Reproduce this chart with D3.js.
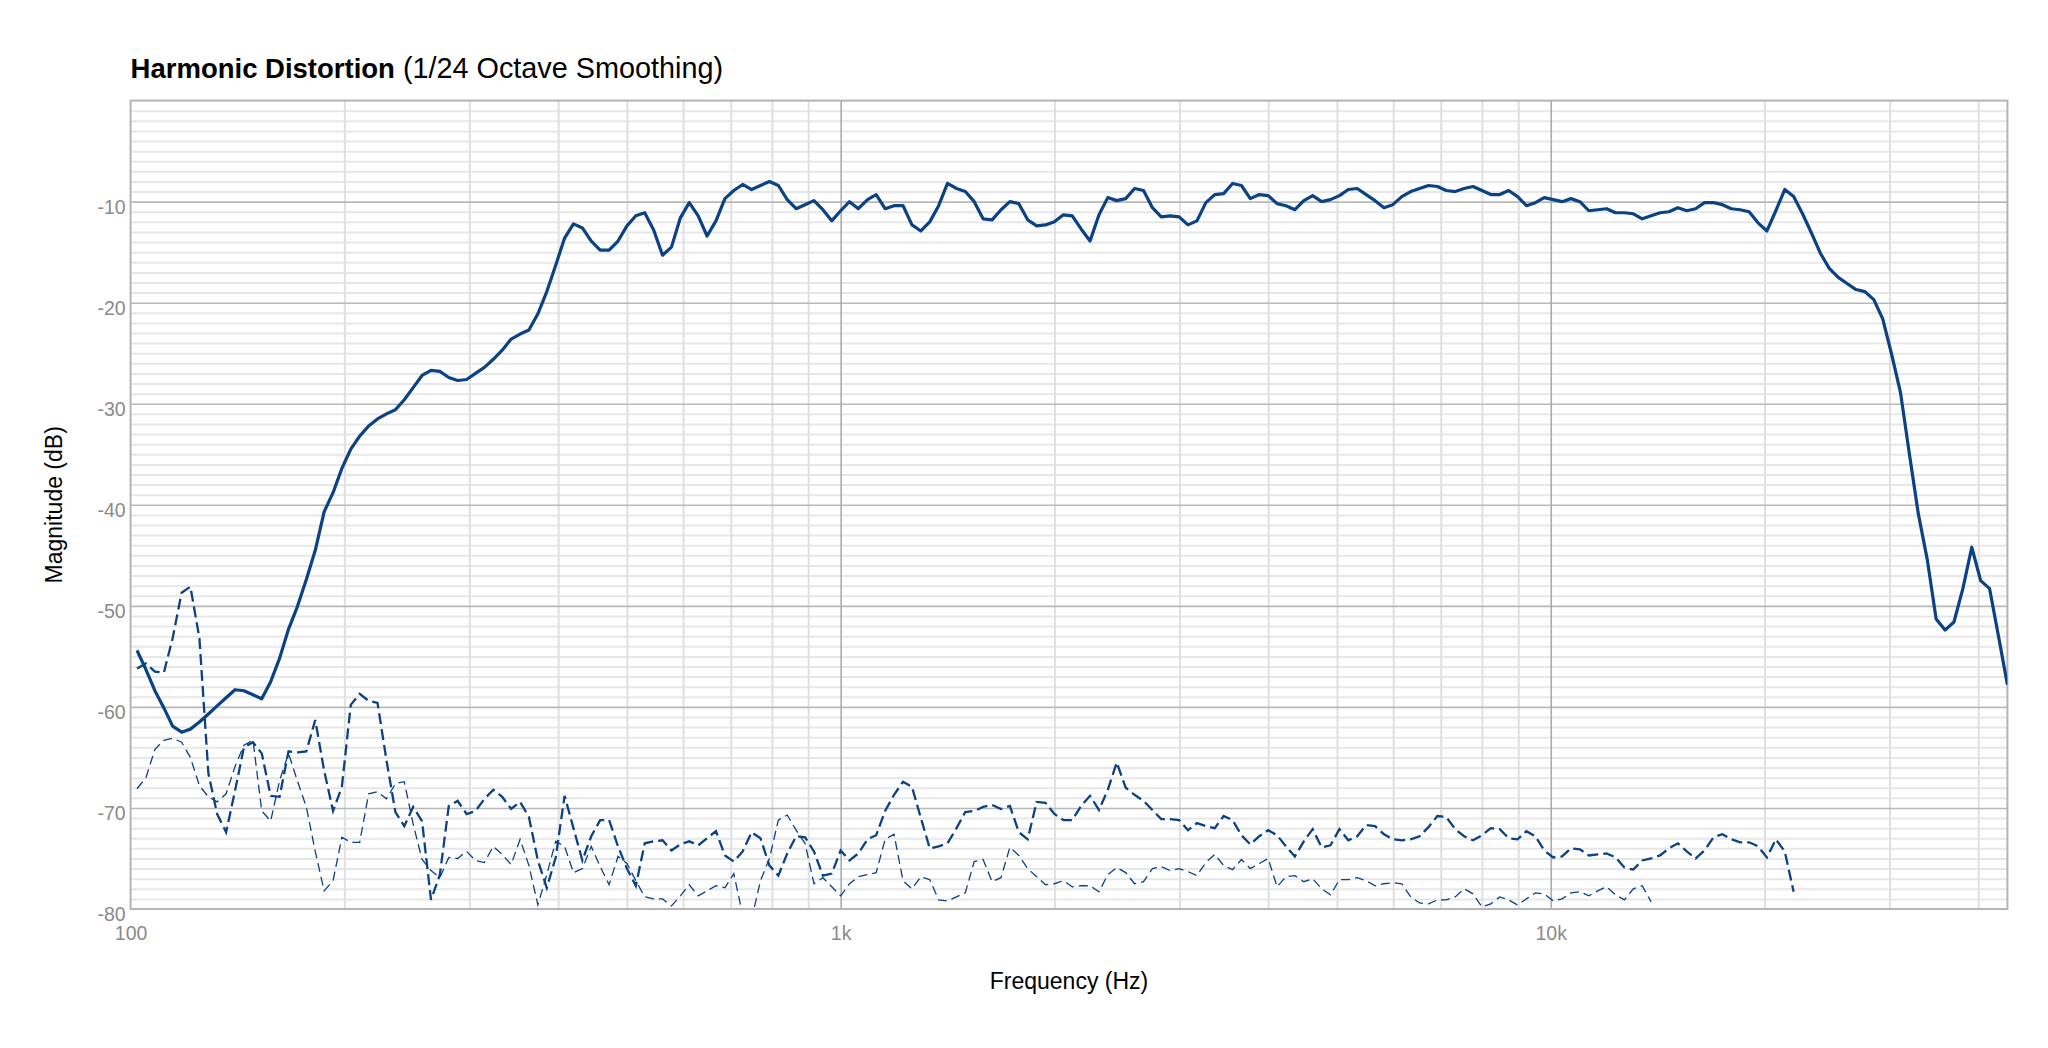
<!DOCTYPE html>
<html>
<head>
<meta charset="utf-8">
<script src="https://cdn.jsdelivr.net/npm/d3@7"></script>
<style>
  body { margin: 0; background: #fff; }
  svg { display: block; font-family: "Liberation Sans", Arial, Helvetica, sans-serif; }
</style>
</head>
<body>
<svg id="chart" width="2048" height="1048"></svg>
<script>
// 1/24 octave band centres (Hz)
const bandFreqs = [
  102.1, 105.1, 108.2, 111.4, 114.6, 118.0, 121.4,
  125.0, 128.7, 132.4, 136.3, 140.3, 144.4, 148.7, 153.0, 157.5, 162.1, 166.9, 171.7, 176.8, 182.0, 187.3, 192.8, 198.4, 204.2, 210.2, 216.4, 222.7, 229.3, 236.0, 242.9,
  250.0, 257.3, 264.9, 272.6, 280.6, 288.8, 297.3, 306.0, 315.0, 324.2, 333.7, 343.5, 353.6, 363.9, 374.6, 385.6, 396.9, 408.5, 420.4, 432.8, 445.4, 458.5, 471.9, 485.8,
  500.0, 514.7, 529.7, 545.3, 561.2, 577.7, 594.6, 612.0, 630.0, 648.4, 667.4, 687.0, 707.1, 727.8, 749.2, 771.1, 793.7, 817.0, 840.9, 865.5, 890.9, 917.0, 943.9, 971.5,
  1000, 1029, 1059, 1091, 1122, 1155, 1189, 1224, 1260, 1297, 1335, 1374, 1414, 1456, 1498, 1542, 1587, 1634, 1682, 1731, 1782, 1834, 1888, 1943,
  2000, 2059, 2119, 2181, 2245, 2311, 2378, 2448, 2520, 2594, 2670, 2748, 2828, 2911, 2997, 3084, 3175, 3268, 3364, 3462, 3564, 3668, 3775, 3886,
  4000, 4117, 4238, 4362, 4490, 4621, 4757, 4896, 5040, 5187, 5339, 5496, 5657, 5823, 5993, 6169, 6350, 6536, 6727, 6924, 7127, 7336, 7551, 7772,
  8000, 8234, 8476, 8724, 8980, 9243, 9514, 9792, 10079, 10375, 10679, 10992, 11314, 11645, 11986, 12338, 12699, 13071, 13454, 13849, 14254, 14672, 15102, 15545,
  16000, 16469, 16951, 17448, 17959, 18486, 19027, 19585, 20159, 20749, 21357, 21983, 22627, 23290, 23973, 24675, 25398, 26142, 26909, 27697, 28509, 29344, 30204, 31089,
  32000, 32938, 33903, 34896, 35919, 36971, 38055, 39170, 40317, 41499, 42714, 43967
];

// fundamental (solid)
const fundamentalDb = [
  -54.4, -56.3, -58.4, -60.1, -61.9, -62.5, -62.2,
  -61.5, -60.7, -59.9, -59.1, -58.3, -58.4, -58.8, -59.2, -57.5, -55.2, -52.3, -50.1, -47.4, -44.5, -40.7, -38.8, -36.4, -34.5, -33.2, -32.2, -31.5, -31.0, -30.6, -29.6,
  -28.4, -27.2, -26.7, -26.8, -27.4, -27.7, -27.6, -27.0, -26.4, -25.6, -24.7, -23.6, -23.1, -22.7, -21.1, -18.9, -16.3, -13.6, -12.2, -12.6, -13.9, -14.8, -14.8, -13.9,
  -12.4, -11.4, -11.1, -12.8, -15.3, -14.5, -11.6, -10.1, -11.4, -13.4, -11.9, -9.7, -8.9, -8.3, -8.8, -8.4, -8.0, -8.4, -9.8, -10.7, -10.3, -9.9, -10.8, -11.9,
  -10.9, -10.0, -10.7, -9.8, -9.3, -10.7, -10.4, -10.4, -12.3, -12.9, -12.0, -10.4, -8.2, -8.7, -9.0, -10.0, -11.7, -11.8, -10.8, -10.0, -10.2, -11.8, -12.4, -12.3,
  -12.0, -11.3, -11.4, -12.7, -13.9, -11.3, -9.6, -9.9, -9.7, -8.7, -8.9, -10.6, -11.5, -11.4, -11.5, -12.3, -11.9, -10.1, -9.3, -9.2, -8.2, -8.4, -9.7, -9.3,
  -9.4, -10.2, -10.4, -10.8, -9.9, -9.4, -10.0, -9.8, -9.4, -8.8, -8.7, -9.3, -9.9, -10.6, -10.3, -9.5, -9.0, -8.7, -8.4, -8.5, -8.9, -9.0, -8.7, -8.5,
  -8.9, -9.3, -9.3, -8.9, -9.5, -10.4, -10.1, -9.6, -9.8, -10.0, -9.7, -10.0, -10.9, -10.8, -10.7, -11.1, -11.1, -11.2, -11.7, -11.4, -11.1, -11.0, -10.6, -10.9,
  -10.7, -10.1, -10.1, -10.3, -10.7, -10.8, -11.0, -12.1, -12.9, -10.9, -8.8, -9.5, -11.2, -13.1, -15.1, -16.6, -17.5, -18.1, -18.7, -18.9, -19.7, -21.6, -25.1, -28.9,
  -35.0, -40.9, -45.4, -51.3, -52.4, -51.6, -48.3, -44.2, -47.5, -48.3, -53.0, -57.8
];

// 2nd harmonic (heavy dashes)
const secondHarmonicDb = [
  -56.2, -55.7, -56.5, -56.6, -53.2, -48.7, -48.1,
  -53.2, -66.6, -70.6, -72.4, -68.3, -64.0, -63.5, -64.6, -68.8, -68.9, -64.4, -64.5, -64.4, -61.3, -66.3, -70.3, -67.9, -59.8, -58.7, -59.4, -59.6, -65.3, -70.4, -71.8,
  -69.9, -71.3, -79.1, -76.6, -69.8, -69.3, -70.6, -70.3, -69.1, -68.2, -68.9, -70.1, -69.4, -70.9, -75.2, -77.9, -74.9, -68.8, -72.0, -75.2, -72.8, -71.2, -71.2, -73.8,
  -76.0, -77.7, -73.5, -73.3, -73.2, -74.2, -73.6, -73.3, -73.7, -73.0, -72.3, -74.7, -75.3, -74.3, -72.4, -73.0, -75.7, -76.7, -74.5, -72.8, -72.9, -74.3, -76.7, -76.5,
  -74.2, -75.2, -74.5, -73.1, -72.7, -70.3, -68.7, -67.4, -67.9, -71.0, -74.0, -73.8, -73.5, -72.0, -70.4, -70.3, -69.9, -69.7, -70.1, -69.8, -72.4, -73.1, -69.4, -69.5,
  -70.6, -71.2, -71.2, -69.8, -68.8, -70.2, -68.2, -65.5, -68.0, -68.7, -69.3, -70.2, -71.1, -71.1, -71.2, -72.2, -71.5, -71.8, -72.0, -70.8, -71.2, -72.7, -73.6, -72.8,
  -72.2, -72.7, -73.8, -74.8, -73.3, -72.1, -73.9, -73.7, -72.1, -73.2, -72.8, -71.7, -71.8, -72.6, -73.1, -73.2, -73.1, -72.8, -71.9, -70.8, -70.9, -72.1, -72.8, -73.2,
  -72.7, -72.0, -72.1, -73.0, -73.1, -72.3, -72.8, -74.2, -74.9, -74.8, -74.0, -74.1, -74.7, -74.6, -74.5, -74.9, -75.9, -76.1, -75.2, -75.0, -74.7, -74.0, -73.5, -74.3,
  -75.0, -74.2, -72.9, -72.6, -73.1, -73.4, -73.4, -73.8, -74.9, -73.1, -74.3, -78.3
];

// 3rd harmonic (light dashes)
const thirdHarmonicDb = [
  -68.1, -67.0, -64.2, -63.3, -63.1, -63.5, -65.0,
  -67.8, -68.9, -69.4, -68.6, -65.9, -63.8, -63.3, -70.3, -71.3, -67.3, -64.6, -67.3, -69.9, -74.3, -78.2, -77.2, -72.9, -73.4, -73.4, -68.6, -68.4, -69.1, -67.6, -67.4,
  -71.6, -75.1, -76.2, -76.9, -74.9, -75.0, -74.3, -75.2, -75.4, -73.8, -74.6, -75.6, -73.1, -75.7, -79.6, -76.6, -73.3, -73.8, -76.4, -76.0, -73.8, -75.8, -77.6, -74.8,
  -75.5, -77.2, -78.8, -79.0, -79.0, -79.7, -78.7, -77.6, -78.7, -78.2, -77.7, -77.9, -76.5, -80.6, -81.0, -77.2, -75.0, -71.2, -70.7, -72.2, -73.5, -77.5, -76.9, -77.8,
  -78.7, -77.5, -76.8, -76.6, -76.4, -73.1, -72.6, -77.2, -78.0, -76.8, -77.1, -79.1, -79.2, -78.8, -78.4, -75.3, -75.1, -77.3, -76.9, -73.9, -74.7, -76.0, -76.8, -77.6,
  -77.5, -77.2, -77.8, -77.7, -77.7, -78.3, -76.6, -75.9, -76.4, -77.5, -77.3, -76.0, -75.8, -76.2, -76.0, -76.3, -76.7, -75.4, -74.6, -75.7, -76.1, -75.1, -76.0, -75.5,
  -75.0, -77.8, -76.8, -76.7, -77.3, -77.0, -78.0, -78.6, -77.1, -77.1, -76.9, -77.2, -77.7, -77.5, -77.4, -77.5, -78.8, -79.4, -79.5, -79.1, -79.1, -78.8, -78.0, -78.5,
  -79.8, -79.5, -78.8, -79.1, -79.6, -79.0, -78.4, -78.5, -79.2, -79.0, -78.4, -78.3, -78.7, -78.2, -77.8, -78.6, -79.1, -78.0, -77.7, -79.3
];

const yTickValues = [-10, -20, -30, -40, -50, -60, -70, -80];
const xTickValues = [100, 1000, 10000];
const xTickLabels = ["100", "1k", "10k"];
const titleMain = "Harmonic Distortion";
const titleSub = " (1/24 Octave Smoothing)";
const xLabel = "Frequency (Hz)";
const yLabel = "Magnitude (dB)";

const lineColor = "#0b4283";
const width = 2048, height = 1048;
const margin = { top: 100.6, right: 40.6, bottom: 139, left: 130.6 };
const plotW = width - margin.left - margin.right;
const plotH = height - margin.top - margin.bottom;

const svg = d3.select("#chart");

const x = d3.scaleLog()
  .domain([100, d3.max(bandFreqs)])
  .range([margin.left, width - margin.right]);

const y = d3.scaleLinear()
  .domain([-80, 0])
  .range([height - margin.bottom, margin.top]);

function drawGrid() {
  const minorDb = d3.range(-79, 0).filter(v => v % 10 !== 0);
  const majorDb = d3.range(-70, 0, 10);
  const minorHz = x.ticks().filter(v => ![100, 1000, 10000].includes(v));
  const majorHz = [1000, 10000];

  const hGrid = (vals, color, w) => svg.append("g")
    .attr("transform", `translate(${margin.left},0)`)
    .call(d3.axisLeft(y).tickValues(vals).tickSize(-plotW).tickFormat(""))
    .call(g => g.select(".domain").remove())
    .call(g => g.selectAll("line").attr("stroke", color).attr("stroke-width", w));

  const vGrid = (vals, color, w) => svg.append("g")
    .attr("transform", `translate(0,${y(-80)})`)
    .call(d3.axisBottom(x).tickValues(vals).tickSize(-plotH).tickFormat(""))
    .call(g => g.select(".domain").remove())
    .call(g => g.selectAll("line").attr("stroke", color).attr("stroke-width", w));

  hGrid(minorDb, "#e7e7e7", 2);
  vGrid(minorHz, "#e0e0e0", 2);
  hGrid(majorDb, "#b9b9b9", 1.6);
  vGrid(majorHz, "#ababab", 1.6);

  svg.append("rect")
    .attr("x", margin.left).attr("y", margin.top)
    .attr("width", plotW).attr("height", plotH)
    .attr("fill", "none").attr("stroke", "#b4b4b4").attr("stroke-width", 2);
}

function drawAxes() {
  // plain hyphen minus, like the original labels
  const yAxis = svg.append("g")
    .attr("transform", `translate(${margin.left},0)`)
    .call(d3.axisLeft(y).tickValues(yTickValues).tickSize(0).tickPadding(5)
      .tickFormat(d => String(d)));
  yAxis.select(".domain").remove();
  yAxis.selectAll("text")
    .attr("dy", "0.6em")
    .attr("fill", "#8a8a8a")
    .style("font-size", "19.5px")
    .style("font-family", "'Liberation Sans', Arial, sans-serif");

  const xAxis = svg.append("g")
    .attr("transform", `translate(0,${y(-80)})`)
    .call(d3.axisBottom(x).tickValues(xTickValues).tickSize(0).tickPadding(17.5)
      .tickFormat((d, i) => xTickLabels[i]));
  xAxis.select(".domain").remove();
  xAxis.selectAll("text")
    .attr("fill", "#8a8a8a")
    .style("font-size", "19.5px")
    .style("font-family", "'Liberation Sans', Arial, sans-serif");
}

function drawLines() {
  svg.append("clipPath").attr("id", "plot-clip")
    .append("rect")
    .attr("x", margin.left).attr("y", margin.top)
    .attr("width", plotW).attr("height", plotH);

  const valueline = d3.line()
    .x((d, i) => x(bandFreqs[i]))
    .y(d => y(d));

  const plotArea = svg.append("g").attr("clip-path", "url(#plot-clip)");

  plotArea.append("path")
    .attr("fill", "none")
    .attr("stroke", lineColor)
    .attr("stroke-width", 1.3)
    .attr("stroke-dasharray", "9,5")
    .attr("d", valueline(thirdHarmonicDb));

  plotArea.append("path")
    .attr("fill", "none")
    .attr("stroke", lineColor)
    .attr("stroke-width", 2.3)
    .attr("stroke-dasharray", "11,5")
    .attr("d", valueline(secondHarmonicDb));

  plotArea.append("path")
    .attr("fill", "none")
    .attr("stroke", lineColor)
    .attr("stroke-width", 3.2)
    .attr("stroke-linejoin", "round")
    .attr("d", valueline(fundamentalDb));
}

function drawLabels() {
  const title = svg.append("text")
    .attr("x", margin.left)
    .attr("y", 78)
    .attr("fill", "#000")
    .style("font-size", "28px");
  title.append("tspan").attr("font-weight", "bold").style("font-size", "27.5px").text(titleMain);
  title.append("tspan").style("font-size", "28.8px").text(titleSub);

  svg.append("text")
    .attr("x", margin.left + plotW / 2)
    .attr("y", 989)
    .attr("text-anchor", "middle")
    .attr("fill", "#000")
    .style("font-size", "23px")
    .text(xLabel);

  svg.append("text")
    .attr("transform", `translate(62,${margin.top + plotH / 2}) rotate(-90)`)
    .attr("text-anchor", "middle")
    .attr("fill", "#000")
    .style("font-size", "23px")
    .text(yLabel);
}

drawGrid();
drawLines();
drawAxes();
drawLabels();
</script>
</body>
</html>
